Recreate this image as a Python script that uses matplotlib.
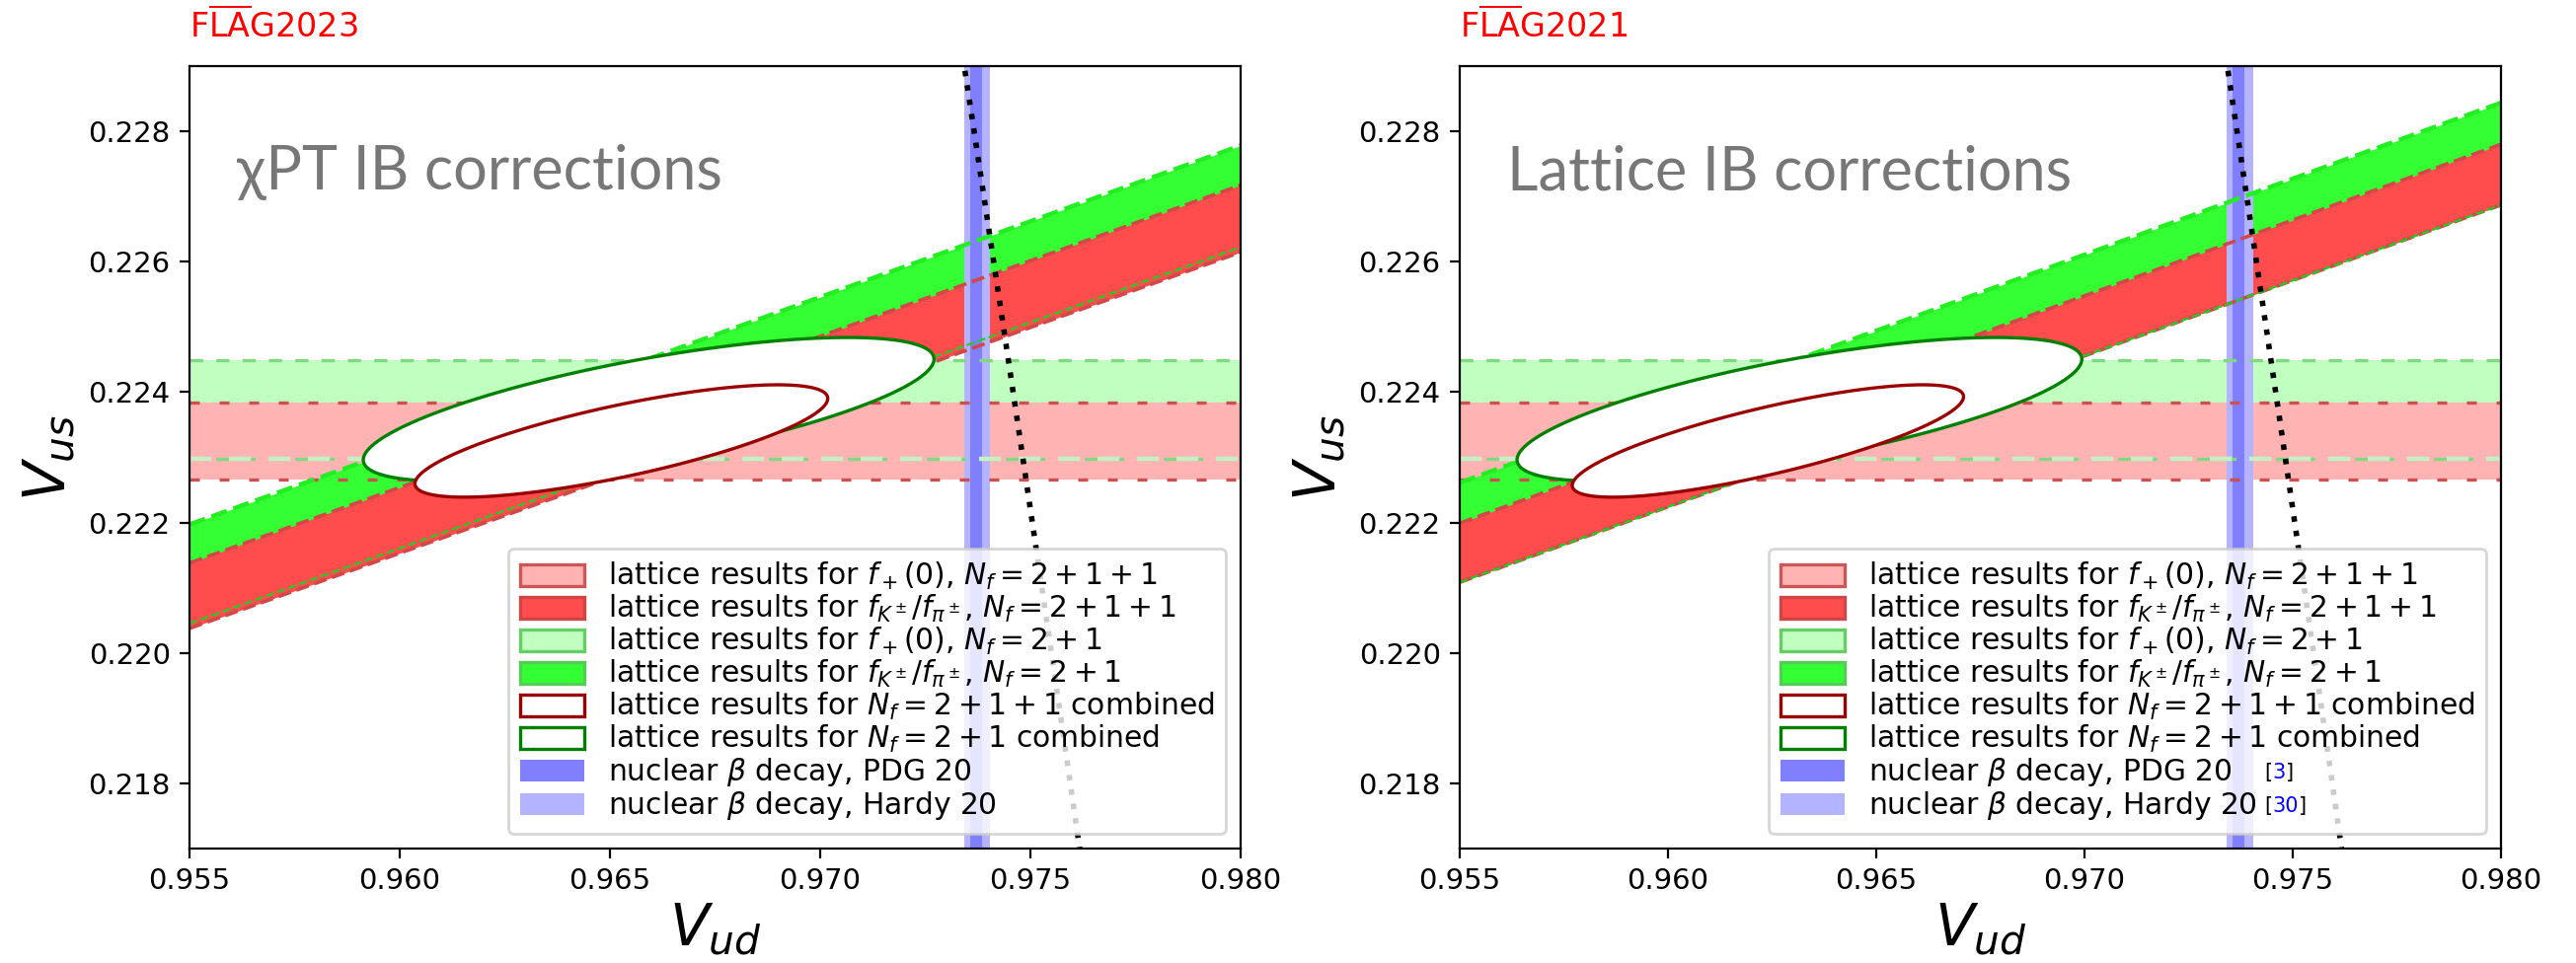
import numpy as np
import matplotlib.pyplot as plt
from matplotlib.patches import Patch
from matplotlib.ticker import FormatStrFormatter

vud_range = [0.955, 0.980]
vus_range = [0.217, 0.229]
vud_ticks = [0.955, 0.960, 0.965, 0.970, 0.975, 0.980]
vus_ticks = [0.218, 0.220, 0.222, 0.224, 0.226, 0.228]

flag_years = ['2023', '2021']
ib_titles = ['χPT IB corrections', 'Lattice IB corrections']

# f+(0) -> Vus band (lo, hi)
fplus_211 = [0.22266, 0.22384]
fplus_21 = [0.22298, 0.22449]

# fK/fpi -> Vus/Vud band (lo, hi), one pair per panel
fkpi_211 = [[0.23076, 0.23181], [0.23150, 0.23245]]
fkpi_21 = [[0.23084, 0.23243], [0.23150, 0.23310]]

# nuclear beta decay, Vud band
vud_pdg = [0.97356, 0.97384]
vud_hardy = [0.97342, 0.97404]
refs = ['3', '30']

labels = [r'lattice results for $f_+(0)$, $N_f=2+1+1$',
          r'lattice results for $f_{K^\pm}/f_{\pi^\pm}$, $N_f=2+1+1$',
          r'lattice results for $f_+(0)$, $N_f=2+1$',
          r'lattice results for $f_{K^\pm}/f_{\pi^\pm}$, $N_f=2+1$',
          r'lattice results for $N_f=2+1+1$ combined',
          r'lattice results for $N_f=2+1$ combined',
          r'nuclear $\beta$ decay, PDG 20',
          r'nuclear $\beta$ decay, Hardy 20']

c_pink = '#ffb3b3'
c_red = '#ff4d4d'
c_lgreen = '#c0ffc0'
c_green = '#33ff33'
c_pdg = '#8080ff'
c_hardy = '#b3b3ff'

contour_k = 1.46


def ellipse(band, ratio):
    # contour of the two constraints combined
    a = 0.5 * (band[0] + band[1])
    sa = 0.5 * (band[1] - band[0])
    r = 0.5 * (ratio[0] + ratio[1])
    sr = 0.5 * (ratio[1] - ratio[0])
    t = np.linspace(0, 2 * np.pi, 400)
    vus = a + sa * contour_k * np.cos(t)
    vud = vus / (r + sr * contour_k * np.sin(t))
    return vud, vus


fig = plt.figure(figsize=(13.05, 4.88), dpi=200)
boxes = [[0.0736, 0.1189, 0.408, 0.8125], [0.5667, 0.1189, 0.4042, 0.8125]]

for i in range(2):
    ax = fig.add_axes(boxes[i])
    x = np.array(vud_range)

    # horizontal bands from f+(0)
    ax.fill_between(x, fplus_21[0], fplus_21[1], color=c_lgreen, lw=0, zorder=1)
    ax.fill_between(x, fplus_211[0], fplus_211[1], color=c_pink, lw=0, zorder=1.1)
    # slanted bands from fK/fpi
    ax.fill_between(x, fkpi_21[i][0] * x, fkpi_21[i][1] * x, color=c_green, lw=0, zorder=1.2)
    ax.fill_between(x, fkpi_211[i][0] * x, fkpi_211[i][1] * x, color=c_red, lw=0, zorder=1.3)

    # nuclear beta decay
    ax.axvspan(vud_hardy[0], vud_hardy[1], color=c_hardy, lw=0, zorder=1.5)
    ax.axvspan(vud_pdg[0], vud_pdg[1], color=c_pdg, lw=0, zorder=1.6)

    # dashed band edges
    for y in fplus_21:
        ax.plot(x, [y, y], ls=(0, (4, 4)), color='#7fd97f', lw=1.2, zorder=2)
    ax.plot(x, [fplus_21[0]] * 2, ls=(0, (5, 4)), color='#c4f0c4', lw=1.6, zorder=2.1)
    for y in fplus_211:
        ax.plot(x, [y, y], ls=(0, (3, 6)), color='#cc5050', lw=1.2, zorder=2)
    ax.plot(x, fkpi_21[i][1] * x, ls='--', color='#22ee22', lw=1.6, zorder=2)
    ax.plot(x, fkpi_21[i][0] * x, ls='--', color='#22cc22', lw=0.8, zorder=2.1)
    for r in fkpi_211[i]:
        ax.plot(x, r * x, ls='--', color='#d04848', lw=1.3, zorder=2)

    # combined ellipses
    ex, ey = ellipse(fplus_21, fkpi_21[i])
    ax.fill(ex, ey, facecolor='white', edgecolor='#008000', lw=1.2, zorder=3)
    ex, ey = ellipse(fplus_211, fkpi_211[i])
    ax.fill(ex, ey, facecolor='white', edgecolor='#990000', lw=1.2, zorder=3.1)

    # unitarity
    u = np.linspace(0.972, 0.978, 300)
    ax.plot(u, np.sqrt(1 - u ** 2), ls=':', color='black', lw=2.0, zorder=4)

    ax.set_xlim(vud_range)
    ax.set_ylim(vus_range)
    ax.set_xticks(vud_ticks)
    ax.set_yticks(vus_ticks)
    ax.xaxis.set_major_formatter(FormatStrFormatter('%.3f'))
    ax.yaxis.set_major_formatter(FormatStrFormatter('%.3f'))
    ax.tick_params(labelsize=10.5)
    ax.set_xlabel(r'$V_{ud}$', fontsize=21, labelpad=2)
    ax.set_ylabel(r'$V_{us}$', fontsize=21)

    ax.text(0.0, 1.037, r'F$\overline{\mathrm{LA}}$G' + flag_years[i], color='red',
            fontsize=12, transform=ax.transAxes, va='baseline')
    ax.text(0.045, 0.842, ib_titles[i], color='#777777', fontsize=22,
            family=['Lato', 'DejaVu Sans'], transform=ax.transAxes, va='baseline')

    handles = [Patch(facecolor=c_pink, edgecolor='#cc5555', lw=1.2),
               Patch(facecolor=c_red, edgecolor='#d04545', lw=1.2),
               Patch(facecolor=c_lgreen, edgecolor='#66cc66', lw=1.2),
               Patch(facecolor=c_green, edgecolor='#55cc55', lw=1.2),
               Patch(facecolor='white', edgecolor='#990000', lw=1.2),
               Patch(facecolor='white', edgecolor='#008000', lw=1.2),
               Patch(facecolor=c_pdg, edgecolor='none'),
               Patch(facecolor=c_hardy, edgecolor='none')]
    leg = ax.legend(handles, labels, loc='lower right', fontsize=10.7,
                    handlelength=2.2, handleheight=0.8, labelspacing=0.03,
                    framealpha=0.8)
    leg.set_zorder(6)

    if i == 1:
        fig.canvas.draw()
        rend = fig.canvas.get_renderer()
        texts = leg.get_texts()
        x_start = texts[7].get_window_extent(rend).x1 + 8
        for t, ref in zip(texts[6:], refs):
            bb = t.get_window_extent(rend)
            xpix = x_start
            ypix = 0.5 * (bb.y0 + bb.y1)
            for piece, col in [('[', 'black'), (ref, 'blue'), (']', 'black')]:
                tt = fig.text(xpix / fig.bbox.width, ypix / fig.bbox.height, piece,
                              color=col, fontsize=7.5, va='center', ha='left', zorder=7)
                xpix = tt.get_window_extent(rend).x1

fig.savefig('out.png', dpi=200)
